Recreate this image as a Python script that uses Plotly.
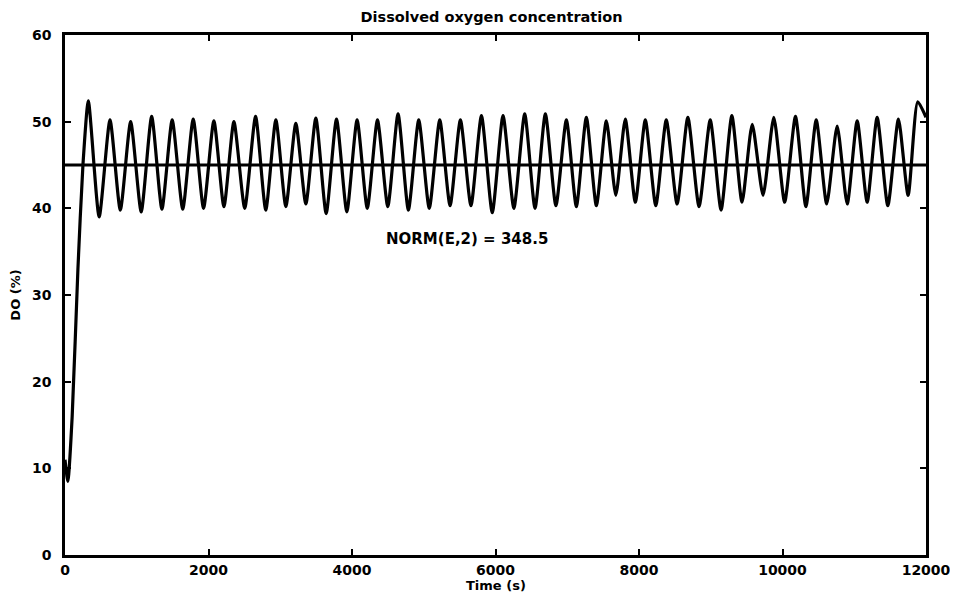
import plotly.graph_objects as go

# ---- data ----
start_time = [0, 40, 100, 180, 250]
start_do = [11.0, 8.5, 16.0, 33.0, 45.0]

peak_time = [325, 627, 915, 1208, 1494, 1787, 2075, 2354, 2656, 2939,
             3217, 3496, 3784, 4071, 4355, 4642, 4930, 5223, 5511, 5804,
             6105, 6407, 6695, 6988, 7266, 7545, 7809, 8088, 8380, 8681,
             8993, 9294, 9578, 9879, 10181, 10470, 10762, 11041, 11319, 11616,
             11885]
peak_do = [52.4, 50.2, 50.0, 50.6, 50.2, 50.3, 50.1, 50.0, 50.6, 50.2,
           49.8, 50.4, 50.3, 50.2, 50.2, 50.9, 50.2, 50.2, 50.2, 50.7,
           50.7, 50.9, 50.9, 50.2, 50.5, 50.1, 50.3, 50.2, 50.2, 50.5,
           50.2, 50.7, 49.7, 50.5, 50.6, 50.2, 49.5, 50.1, 50.5, 50.3,
           52.3]

trough_time = [476, 771, 1062, 1351, 1641, 1931, 2215, 2505, 2798, 3078,
               3357, 3640, 3928, 4213, 4499, 4786, 5077, 5367, 5658, 5955,
               6256, 6551, 6842, 7127, 7406, 7677, 7949, 8234, 8531, 8837,
               9144, 9436, 9729, 10030, 10326, 10616, 10902, 11180, 11468, 11751]
trough_do = [39.0, 39.8, 39.6, 39.9, 39.9, 40.0, 40.2, 40.0, 39.8, 40.2,
             40.5, 39.4, 39.6, 40.0, 40.2, 39.8, 40.0, 40.3, 40.3, 39.5,
             40.0, 40.0, 40.3, 40.2, 40.3, 41.5, 40.7, 40.3, 40.5, 40.2,
             39.8, 40.7, 41.5, 40.7, 40.2, 40.5, 40.5, 40.7, 40.3, 41.5]

end_time = [12000]
end_do = [50.5]

setpoint_time = [0, 12000]
setpoint_do = [45, 45]

norm_text = "NORM(E,2) = 348.5"
norm_pos = (5600, 36.5)

x_title = "Time (s)"
y_title = "DO (%)"
chart_title = "Dissolved oxygen concentration"

x_ticks = [0, 2000, 4000, 6000, 8000, 10000, 12000]
y_ticks = [0, 10, 20, 30, 40, 50, 60]

# ---- assemble signal (alternating peaks and troughs) ----
sig_t = list(start_time)
sig_v = list(start_do)
for i in range(len(peak_time)):
    sig_t.append(peak_time[i]); sig_v.append(peak_do[i])
    if i < len(trough_time):
        sig_t.append(trough_time[i]); sig_v.append(trough_do[i])
sig_t += end_time
sig_v += end_do

FONT = "DejaVu Sans, Liberation Sans, Arial, sans-serif"


def bold(size):
    return dict(family=FONT, size=size, color="black", weight=700)


fig = go.Figure()
fig.add_trace(go.Scatter(x=sig_t, y=sig_v, mode="lines",
                         line=dict(color="black", width=3.2, shape="spline", smoothing=0.6),
                         showlegend=False, hoverinfo="skip"))
fig.add_trace(go.Scatter(x=setpoint_time, y=setpoint_do, mode="lines",
                         line=dict(color="black", width=3),
                         showlegend=False, hoverinfo="skip"))

fig.add_annotation(x=norm_pos[0], y=norm_pos[1], text=norm_text, showarrow=False,
                   font=bold(15))

# x-axis title placed as paper-anchored text just under the tick labels
fig.add_annotation(x=0.5, xref="paper", y=0, yref="paper", yanchor="middle",
                   yshift=-30, text=x_title, showarrow=False, font=bold(13))

axis_common = dict(showgrid=False, zeroline=False, showline=True, linecolor="black",
                   linewidth=2.5, mirror="ticks", ticks="inside", ticklen=6,
                   tickwidth=2, tickcolor="black", tickfont=bold(14),
                   automargin=False)

fig.update_xaxes(range=[0, 12000], tickvals=x_ticks, ticktext=[str(v) for v in x_ticks],
                 ticklabelstandoff=0,
                 **axis_common)
fig.update_yaxes(range=[0, 60], tickvals=y_ticks, ticktext=[str(v) for v in y_ticks],
                 ticklabelstandoff=8,
                 title=dict(text=y_title, font=bold(13)),
                 **axis_common)

# page body has an 8px default margin: size/margins compensate so the
# plotting box lands where it is in the reference window
fig.update_layout(
    width=950, height=586,
    margin=dict(l=57, r=32, t=27, b=39, autoexpand=False),
    paper_bgcolor="white", plot_bgcolor="white",
    title=dict(text=chart_title, x=0.509, xanchor="center",
               y=1 - 9 / 586, yanchor="middle", font=bold(14.5)),
)

fig.write_html("out.html")
